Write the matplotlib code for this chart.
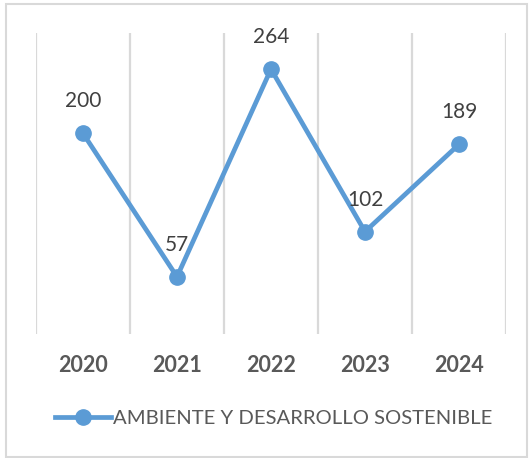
import matplotlib
matplotlib.use("Agg")
import matplotlib.pyplot as plt
from matplotlib.patches import Rectangle
from matplotlib.lines import Line2D

years = ["2020", "2021", "2022", "2023", "2024"]
values = [200, 57, 264, 102, 189]
series_name = "AMBIENTE Y DESARROLLO SOSTENIBLE"

W, H = 529, 458
DPI = 100
plt.rcParams['font.family'] = ['Lato', 'DejaVu Sans']
TXT = '#595959'
LINE = '#5B9BD5'
GRID = '#D9D9D9'

fig = plt.figure(figsize=(W / DPI, H / DPI), dpi=DPI)
ax = fig.add_axes([36 / W, 1 - 334 / H, (506 - 36) / W, (334 - 33) / H])

x = list(range(len(years)))
ax.set_xlim(-0.5, len(years) - 0.5)
ax.set_ylim(0, 300)

# category boundary gridlines
ax.set_xticks([i - 0.5 for i in range(len(years) + 1)], minor=True)
ax.grid(True, which='minor', axis='x', color=GRID, linewidth=1.6)
ax.set_xticks(x)
ax.set_xticklabels(years, fontsize=15.5, fontweight='bold', color=TXT)
ax.tick_params(axis='x', which='both', length=0, pad=15)
ax.set_yticks([])
for s in ax.spines.values():
    s.set_visible(False)

ax.plot(x, values, color=LINE, linewidth=3.4, marker='o', markersize=11,
        solid_capstyle='round', zorder=3, clip_on=False)

for xi, v in zip(x, values):
    ax.annotate(str(v), (xi, v), xytext=(0, 23), textcoords='offset points',
                ha='center', va='center', fontsize=15, color='#404040')

handle = Line2D([], [], color=LINE, linewidth=3.4, marker='o', markersize=11)
fig.legend([handle], [series_name], loc='center',
           bbox_to_anchor=(273.5 / W, 1 - 418 / H), frameon=False,
           fontsize=14.6, handlelength=2.75, handletextpad=0.1,
           labelcolor=TXT, borderpad=0)

fig.patches.append(Rectangle((6 / W, 1 - 457 / H), (527 - 6) / W, (457 - 4) / H,
                             transform=fig.transFigure, fill=False,
                             edgecolor=GRID, linewidth=1.5))

fig.savefig("out.png", dpi=DPI)
